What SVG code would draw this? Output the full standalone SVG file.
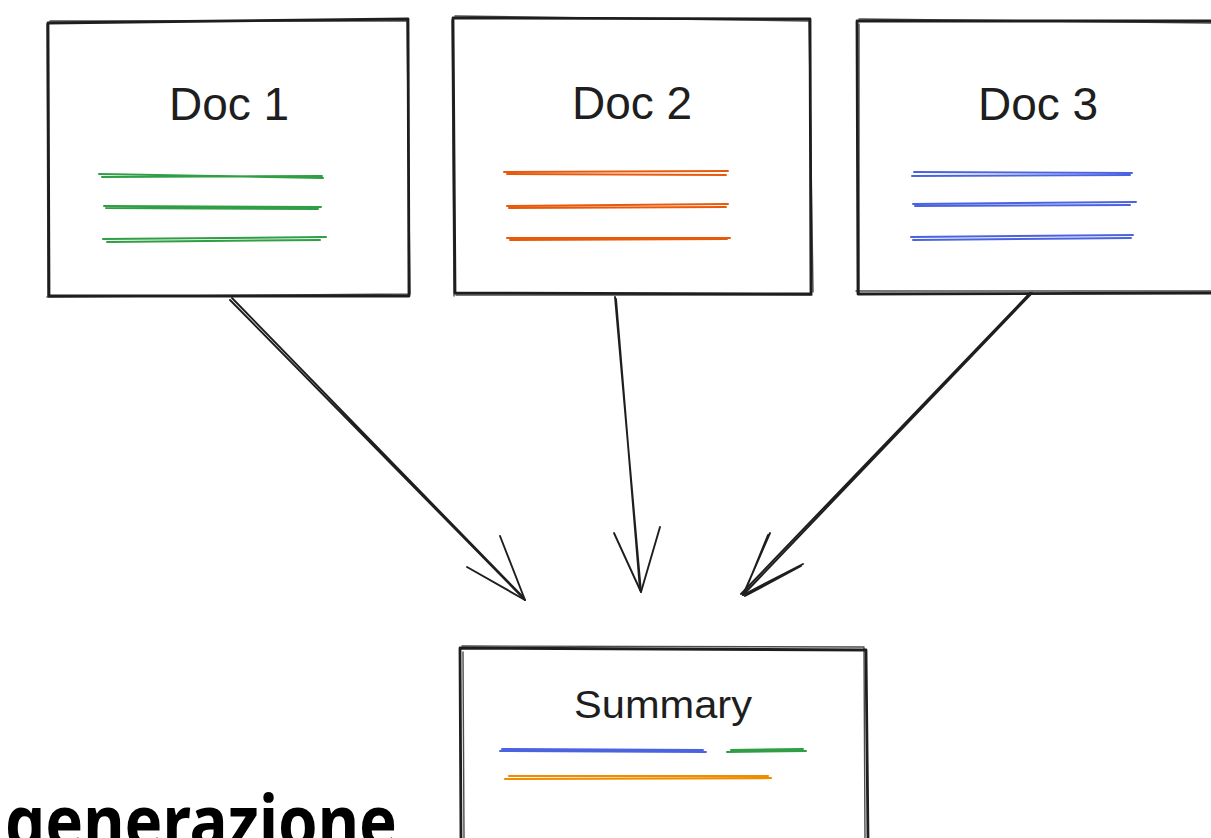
<svg xmlns="http://www.w3.org/2000/svg" width="1211" height="838" viewBox="0 0 1211 838">
<style>
.box{fill:none;stroke:#1e1e1e;stroke-width:2.8;stroke-linecap:round;stroke-linejoin:round}
.box2{fill:none;stroke:#1e1e1e;stroke-width:1.4;stroke-linecap:round;opacity:.8}
.lbl{font-family:"Liberation Sans",Arial,sans-serif;font-size:46px;fill:#1e1e1e;text-anchor:middle}
.g{stroke:#2f9e44;stroke-width:2;fill:none;stroke-linecap:round}
.o{stroke:#e8590c;stroke-width:2;fill:none;stroke-linecap:round}
.b{stroke:#4c63e0;stroke-width:2;fill:none;stroke-linecap:round}
.y{stroke:#f08c00;stroke-width:2.2;fill:none;stroke-linecap:round}
.arr{fill:none;stroke:#1e1e1e;stroke-width:1.9;stroke-linecap:round}
.title{font-family:"Noto Sans","Liberation Sans",sans-serif;font-weight:700;font-size:74px;fill:#000}
</style>
<rect width="1211" height="838" fill="#fff"/>

<g id="doc1">
<path class="box" d="M48 23 L408 19 L409 296 L49 296 Z"/>
<path class="box2" d="M50 21 L406 21 M407 20 L410 294 M410 294 L47 297 M48 297 L47 24"/>
<text class="lbl" x="229" y="120">Doc 1</text>
<path class="g" d="M99 174 L323 178 M102 177 L322 176"/>
<path class="g" d="M104 206 L321 207 M106 208 L318 209"/>
<path class="g" d="M103 239 L326 237 M107 242 L320 240"/>
</g>

<g id="doc2">
<path class="box" d="M453 18 L810 19 L811 294 L455 293 Z"/>
<path class="box2" d="M455 16 L808 21 M809 20 L813 292 M812 295 L456 295 M454 296 L452 20"/>
<text class="lbl" x="632" y="119">Doc 2</text>
<path class="o" d="M504 172 L728 171 M507 174 L726 175"/>
<path class="o" d="M507 206 L728 204 M509 208 L726 207"/>
<path class="o" d="M507 238 L730 238 M510 240 L727 239"/>
</g>

<g id="doc3">
<path class="box" d="M857 21 L1215 21 M1215 293 L858 294 L857 22"/>
<path class="box2" d="M859 19 L1215 23 M1215 291 L856 291 M859 293 L859 24"/>
<text class="lbl" x="1038" y="120">Doc 3</text>
<path class="b" d="M914 172 L1132 173 M912 176 L1130 175"/>
<path class="b" d="M913 204 L1136 202 M915 206 L1130 205"/>
<path class="b" d="M911 237 L1133 235 M913 240 L1131 238"/>
</g>

<g id="summary">
<path class="box" d="M460 648 L866 650 M866 650 L868 840 M460 648 L461 840"/>
<path class="box2" d="M462 646 L864 647 M864 648 L865 840 M463 652 L464 840"/>
<text class="lbl" x="663" y="718" style="font-size:38px" textLength="178" lengthAdjust="spacingAndGlyphs">Summary</text>
<path class="b" d="M500 751 L706 752 M502 749 L703 750"/>
<path class="g" d="M727 752 L806 751 M731 750 L803 749"/>
<path class="y" d="M505 779 L771 778 M509 776 L768 776"/>
</g>

<g id="connectors">
<path class="arr" d="M230 300 L525 600 M232 298 L524 598"/>
<path class="arr" d="M467 567 L525 600 M500 536 L525 600"/>
<path class="arr" d="M615 297 L641 592 M616 299 L640 590"/>
<path class="arr" d="M614 533 L641 592 M660 527 L641 592"/>
<path class="arr" d="M1032 293 L743 595 M1030 293 L741 594"/>
<path class="arr" d="M770 533 L743 595 M803 564 L743 595 M768 535 L744 594 M801 566 L745 596"/>
</g>

<text class="title" x="5" y="848" textLength="392" lengthAdjust="spacingAndGlyphs">generazione</text>
</svg>
